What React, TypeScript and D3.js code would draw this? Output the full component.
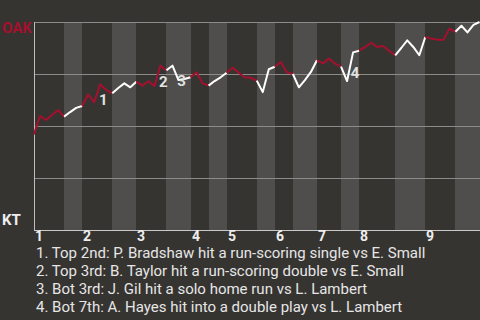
import React from "react";
import * as d3 from "d3";

const innings = ["1", "2", "3", "4", "5", "6", "7", "8", "9"];
// index of the last plate appearance of each half-inning (top 1, bot 1, top 2, ...)
const halfInningEnds = [5, 8, 13, 17, 22, 26, 29, 32, 37, 40, 43, 47, 51, 54, 60, 65, 70, 74];
// OAK win probability after each plate appearance
const winProb = [
  0.46, 0.548, 0.529, 0.553, 0.577, 0.545, 0.567, 0.587, 0.596, 0.652,
  0.614, 0.7, 0.673, 0.657, 0.683, 0.705, 0.686, 0.713, 0.694, 0.715,
  0.692, 0.79, 0.768, 0.79, 0.721, 0.726, 0.734, 0.758, 0.705, 0.694,
  0.716, 0.734, 0.756, 0.78, 0.756, 0.734, 0.732, 0.718, 0.663, 0.773,
  0.785, 0.808, 0.758, 0.75, 0.686, 0.721, 0.76, 0.816, 0.801, 0.824,
  0.8, 0.785, 0.716, 0.854, 0.862, 0.88, 0.9, 0.88, 0.885, 0.861,
  0.84, 0.875, 0.912, 0.88, 0.84, 0.928, 0.92, 0.916, 0.913, 0.968,
  0.953, 0.982, 0.95, 0.986, 1.0,
];
const gridValues = [0.25, 0.5, 0.75, 1];
const teams = ["OAK", "KT"];
const eventLabels = ["1", "2", "3", "4"];
const eventIndex = [11, 21, 24, 53];
const eventOffsets = [[3, 21], [3, 21], [3, 6], [2, 26]];
const notes = [
  "1. Top 2nd: P. Bradshaw hit a run-scoring single vs E. Small",
  "2. Top 3rd: B. Taylor hit a run-scoring double vs E. Small",
  "3. Bot 3rd: J. Gil hit a solo home run vs L. Lambert",
  "4. Bot 7th: A. Hayes hit into a double play vs L. Lambert",
];

const W = 480;
const H = 320;
const M = { left: 34, right: 0.5, top: 22, bottom: 90 };
const RED = "#a5102e";
const BG = "#363431";
const BAND = "#4f4e4c";
const FONT = "Roboto, 'Noto Sans', sans-serif";
const bold = { fontWeight: 700 } as React.CSSProperties;

export default function App() {
  const n = winProb.length;
  const x = d3.scaleLinear().domain([0, n - 1]).range([M.left, W - M.right]);
  const y = d3.scaleLinear().domain([0, 1]).range([H - M.bottom, M.top]);

  const halves = halfInningEnds.map((end, i) => {
    const start = i === 0 ? 0 : halfInningEnds[i - 1];
    return { start, end, top: i % 2 === 0 };
  });

  const segPath = (start: number, end: number) => {
    const idx = d3.range(start, end + 1);
    return d3
      .line<number>()
      .x((i) => x(i))
      .y((i) => y(winProb[i]))(idx) as string;
  };

  return (
    <svg
      width={W}
      height={H}
      style={{ position: "fixed", left: 0, top: 0, display: "block", fontFamily: FONT }}
    >
      <rect x={0} y={0} width={W} height={H} fill={BG} />
      {halves.map((h, i) =>
        h.top ? null : (
          <rect
            key={"b" + i}
            x={Math.round(x(h.start))}
            y={M.top}
            width={Math.round(x(h.end)) - Math.round(x(h.start))}
            height={y(0) - y(1)}
            fill={BAND}
          />
        )
      )}
      {gridValues.map((g) => (
        <line
          key={"g" + g}
          x1={M.left}
          x2={W}
          y1={Math.round(y(g)) + 0.5}
          y2={Math.round(y(g)) + 0.5}
          stroke="#8c8b89"
          strokeWidth={1}
        />
      ))}
      <line x1={M.left + 0.5} x2={M.left + 0.5} y1={M.top} y2={y(0)} stroke="#bdbdbd" strokeWidth={1} />
      <line x1={M.left} x2={W} y1={y(0) + 0.5} y2={y(0) + 0.5} stroke="#c9c9c9" strokeWidth={1} />
      {halves.map((h, i) => (
        <path
          key={"s" + i}
          d={segPath(h.start, h.end)}
          fill="none"
          stroke={h.top ? RED : "#ffffff"}
          strokeWidth={2}
          strokeLinejoin="round"
        />
      ))}
      {eventLabels.map((lab, i) => (
        <text
          key={"e" + i}
          x={x(eventIndex[i]) + eventOffsets[i][0]}
          y={y(winProb[eventIndex[i]]) + eventOffsets[i][1]}
          textAnchor="middle"
          fontSize={15}
          style={bold}
          fill="#e2e2e2"
        >
          {lab}
        </text>
      ))}
      <text x={2} y={33} fontSize={15} style={bold} fill={RED}>
        {teams[0]}
      </text>
      <text x={2} y={225} fontSize={15} style={bold} fill="#eeeeee">
        {teams[1]}
      </text>
      {innings.map((lab, i) => (
        <text
          key={"i" + i}
          x={Math.round(x(halves[i * 2].start)) + 1}
          y={241}
          fontSize={14}
          style={bold}
          fill="#eeeeee"
        >
          {lab}
        </text>
      ))}
      {notes.map((t, i) => (
        <text key={"n" + i} x={36} y={258 + i * 18} fontSize={15} fill="#e6e6e6">
          {t}
        </text>
      ))}
    </svg>
  );
}
